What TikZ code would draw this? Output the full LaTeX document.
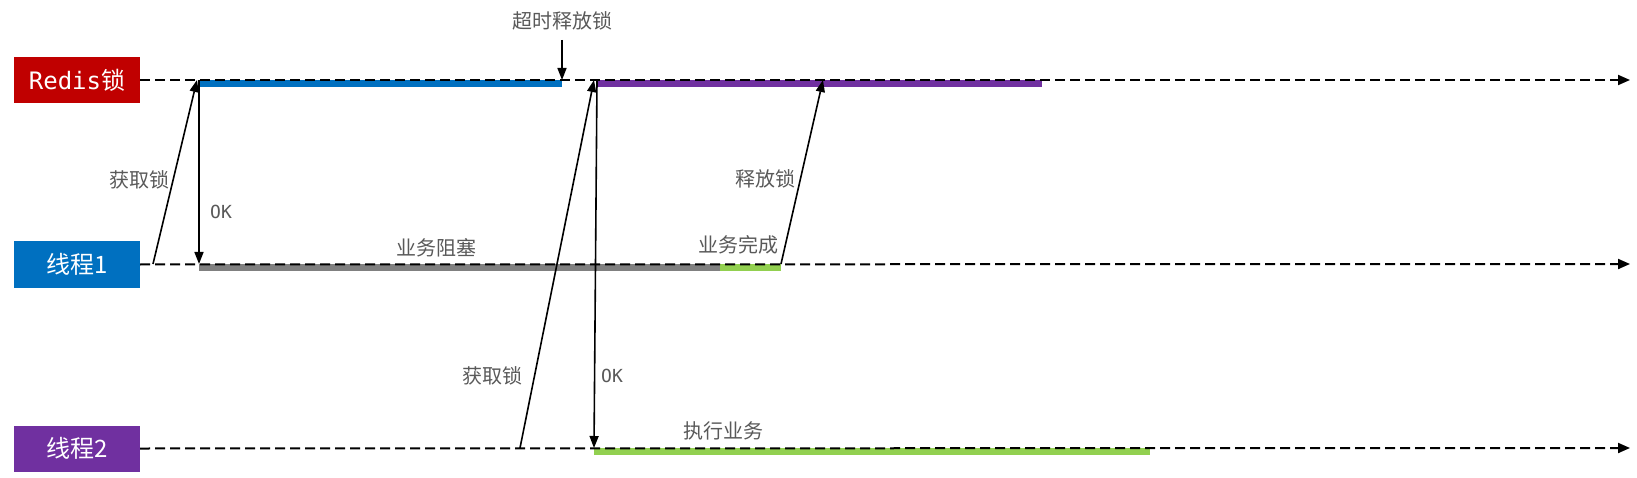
\documentclass[tikz,border=0pt]{standalone}
\usepackage{fontspec}
\setmainfont{Noto Sans CJK SC}
\newfontfamily\monof{DejaVu Sans Mono}
\usetikzlibrary{arrows.meta}
\definecolor{redc}{HTML}{C00000}
\definecolor{bluec}{HTML}{0070C0}
\definecolor{purplec}{HTML}{7030A0}
\definecolor{grayc}{HTML}{808080}
\definecolor{greenc}{HTML}{92D050}
\definecolor{txtc}{HTML}{595959}
\tikzset{
  box/.style={rectangle, inner sep=0pt, minimum width=126pt, minimum height=46pt, text=white, font=\fontsize{24}{24}\selectfont},
  tl/.style={line width=2pt, dash pattern=on 10pt off 5pt, -{Triangle[length=12pt,width=10pt]}},
  bar/.style={line width=7pt},
  arr/.style={line width=1.6pt, -{Triangle[length=12pt,width=9pt]}},
  lbl/.style={text=txtc, inner sep=0pt, font=\fontsize{20}{20}\selectfont},
  oklbl/.style={text=txtc, inner sep=0pt, font=\monof\fontsize{18}{18}\selectfont}
}
\begin{document}
\begin{tikzpicture}[x=1pt,y=-1pt]
\useasboundingbox (0,0) rectangle (1637,478);
% boxes
\node[box, fill=redc] (redis) at (77,80) {{\monof Redis}锁};
\node[box, fill=bluec] (t1) at (77,264.5) {线程1};
\node[box, fill=purplec] (t2) at (77,448.5) {线程2};
% line end coordinates
\coordinate (rEnd) at (1630,80);
\coordinate (t1End) at (1630,264);
\coordinate (t2End) at (1630,448);
% bars
\coordinate (bbS) at (199,83.5); \coordinate (bbE) at (562,83.5);
\coordinate (pbS) at (597,83.5); \coordinate (pbE) at (1042,83.5);
\coordinate (gbS) at (199,267.5); \coordinate (gbE) at (720,267.5);
\coordinate (g1S) at (720,267.5); \coordinate (g1E) at (781,267.5);
\coordinate (g2S) at (594,451.5); \coordinate (g2E) at (1150,451.5);
\draw[bar, bluec] (bbS) -- (bbE);
\draw[bar, purplec] (pbS) -- (pbE);
\draw[bar, grayc] (gbS) -- (gbE);
\draw[bar, greenc] (g1S) -- (g1E);
\draw[bar, greenc] (g2S) -- (g2E);
% timelines
\draw[tl] (redis.east) -- (rEnd);
\draw[tl] (t1.east) -- (t1End);
\draw[tl] (t2.east) -- (t2End);
% thread 1 acquire
\coordinate (a1S) at (153,264); \coordinate (a1E) at (197,80);
\draw[arr] (a1S) -- (a1E);
\coordinate (ok1S) at (199,80); \coordinate (ok1E) at (199,264);
\draw[arr] (ok1S) -- (ok1E);
% timeout
\coordinate (toS) at (562,40); \coordinate (toE) at (562,80);
\draw[arr] (toS) -- (toE);
% release
\coordinate (relS) at (781,264); \coordinate (relE) at (823,80);
\draw[arr] (relS) -- (relE);
% thread 2 acquire
\coordinate (a2S) at (520,448); \coordinate (a2E) at (594,80);
\draw[arr] (a2S) -- (a2E);
\coordinate (ok2S) at (597,80); \coordinate (ok2E) at (594,448);
\draw[arr] (ok2S) -- (ok2E);
% labels
\node[lbl] (lto) at (562,21) {超时释放锁};
\node[lbl] (lacq1) at (139,180) {获取锁};
\node[oklbl] (lok1) at (221,212) {OK};
\node[lbl] (lblock) at (436,248) {业务阻塞};
\node[lbl] (ldone) at (738,245) {业务完成};
\node[lbl] (lrel) at (765,179) {释放锁};
\node[lbl] (lacq2) at (492,376) {获取锁};
\node[oklbl] (lok2) at (612,376) {OK};
\node[lbl] (lexec) at (723,431) {执行业务};
\end{tikzpicture}
\end{document}
